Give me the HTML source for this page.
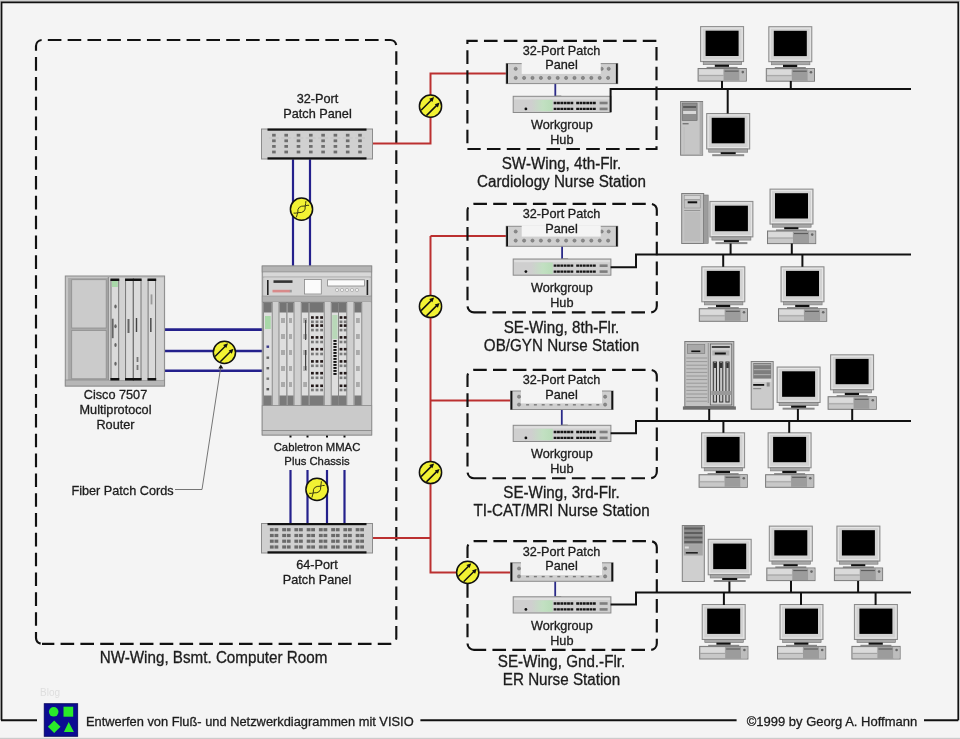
<!DOCTYPE html>
<html><head><meta charset="utf-8"><style>
html,body{margin:0;padding:0;background:#f4f4f4;}
svg{display:block;font-family:"Liberation Sans",sans-serif;will-change:transform;}
</style></head><body>
<svg width="960" height="739" viewBox="0 0 960 739">
<defs>
<linearGradient id="hubg" x1="0" y1="0" x2="1" y2="0"><stop offset="0" stop-color="#cfcfcf"/><stop offset="0.55" stop-color="#c2e0c2"/><stop offset="1" stop-color="#b8dcb8"/></linearGradient>
<g id="fib">
<circle cx="0" cy="0" r="11.1" fill="#f2f233" stroke="#111" stroke-width="1.5"/>
<line x1="-9.4" y1="4.1" x2="1.6" y2="-6.9" stroke="#111" stroke-width="1.5"/>
<line x1="-4.1" y1="9.4" x2="6.9" y2="-1.6" stroke="#111" stroke-width="1.5"/>
<path d="M3.6,-9.1 L1.9,-4.3 L-1.3,-7.4 Z" fill="#111"/>
<path d="M9.1,-3.6 L7.4,1.3 L4.3,-1.9 Z" fill="#111"/>
</g>
<g id="twist">
<circle cx="0" cy="0" r="11.1" fill="#f2f233" stroke="#111" stroke-width="1.5"/>
<path d="M-7.9,3.9 Q-5.5,4.2 -3.7,3.5 Q-4.6,-3.75 3.7,-3.2 Q5.5,-4.2 7.6,-3.9" fill="none" stroke="#3a3a10" stroke-width="1"/>
<path d="M-5.1,8.1 Q-4.5,5.5 -3.7,3.5 Q4.6,4.05 3.7,-3.2 Q4.2,-5.5 4.4,-8.1" fill="none" stroke="#3a3a10" stroke-width="1"/>
</g>
<g id="mon">
<rect x="0.5" y="0.5" width="43" height="35.5" fill="#d2d2d2" stroke="#8a8a8a" stroke-width="1"/>
<rect x="2" y="2" width="40" height="32.5" fill="none" stroke="#e6e6e6" stroke-width="1"/>
<rect x="5.5" y="4.8" width="33" height="25.5" fill="#000"/>
<rect x="2.5" y="36" width="39" height="3.2" fill="#a8a8a8" stroke="#777" stroke-width="0.6"/>
<rect x="14.5" y="39.2" width="15" height="2.2" fill="#111"/>
<rect x="6" y="41.2" width="32" height="2" fill="#8a8a8a"/>
</g>
<g id="pc">
<rect x="3" y="0.5" width="43" height="35" fill="#d2d2d2" stroke="#8a8a8a" stroke-width="1"/>
<rect x="4.5" y="2" width="40" height="32" fill="none" stroke="#e6e6e6" stroke-width="1"/>
<rect x="8" y="4.6" width="33" height="25.3" fill="#000"/>
<rect x="5.6" y="35.5" width="38.5" height="3.1" fill="#a8a8a8" stroke="#777" stroke-width="0.6"/>
<rect x="17.2" y="38.6" width="14.2" height="2.2" fill="#111"/>
<rect x="9" y="40.8" width="31" height="1.8" fill="#888"/>
<rect x="0.5" y="42.4" width="48.2" height="12.6" fill="#c8c8c8" stroke="#7a7a7a" stroke-width="1"/>
<rect x="1.5" y="43.5" width="24" height="5" fill="#dadada"/>
<line x1="1" y1="49.5" x2="26" y2="49.5" stroke="#9a9a9a" stroke-width="0.8"/>
<rect x="26" y="43" width="16" height="11.5" fill="#9c9c9c"/>
<line x1="27" y1="45" x2="41" y2="45" stroke="#555" stroke-width="1"/>
<rect x="42" y="43" width="6.2" height="11.5" fill="#bdbdbd"/>
<circle cx="45.2" cy="46" r="1.3" fill="#666"/>
</g>
</defs>
<rect x="0" y="0" width="960" height="739" fill="#f4f4f4"/>
<rect x="0" y="0" width="960" height="2" fill="#cfcfcf"/>
<rect x="0" y="737.8" width="960" height="1.2" fill="#cccccc"/>
<path d="M1.5,720.3 V2.3 H958.3 V720.3" fill="none" stroke="#111" stroke-width="1.8"/>
<line x1="1" y1="720.3" x2="37" y2="720.3" stroke="#111" stroke-width="2"/>
<line x1="420.4" y1="720.3" x2="736.6" y2="720.3" stroke="#111" stroke-width="2"/>
<line x1="924" y1="720.3" x2="958.3" y2="720.3" stroke="#111" stroke-width="2"/>
<path d="M42.00,643.80 H390.30 A6,6 0 0 0 396.30,637.80 V46.00 A6,6 0 0 0 390.30,40.00 H42.00 A6,6 0 0 0 36.00,46.00 V637.80 A6,6 0 0 0 42.00,643.80" fill="none" stroke="#111" stroke-width="2.15" stroke-dasharray="13.6 6.225" stroke-dashoffset="1.26"/>
<text transform="translate(213.5,663) scale(1,1.04)" x="0" y="0" font-size="15.2" text-anchor="middle" fill="#1c1c1c" stroke="#1c1c1c" stroke-width="0.3">NW-Wing, Bsmt. Computer Room</text>
<path d="M372,143.5 H430.5 V73.5 H507" fill="none" stroke="#bb3030" stroke-width="2"/>
<path d="M372,538 H430.5" fill="none" stroke="#bb3030" stroke-width="2"/>
<path d="M430.5,236 V572.5 H511" fill="none" stroke="#bb3030" stroke-width="2"/>
<path d="M430.5,236 H507" fill="none" stroke="#bb3030" stroke-width="2"/>
<path d="M430.5,400.5 H511" fill="none" stroke="#bb3030" stroke-width="2"/>
<line x1="293" y1="158" x2="293" y2="267" stroke="#24208c" stroke-width="2.2"/>
<line x1="310" y1="158" x2="310" y2="267" stroke="#24208c" stroke-width="2.2"/>
<line x1="165" y1="329.6" x2="263" y2="329.6" stroke="#24208c" stroke-width="2.6"/>
<line x1="165" y1="351.0" x2="263" y2="351.0" stroke="#24208c" stroke-width="2.6"/>
<line x1="165" y1="370.8" x2="263" y2="370.8" stroke="#24208c" stroke-width="2.6"/>
<line x1="290.5" y1="470" x2="290.5" y2="524" stroke="#24208c" stroke-width="2.2"/>
<line x1="290.5" y1="434" x2="290.5" y2="437.5" stroke="#111" stroke-width="2"/>
<line x1="307.5" y1="470" x2="307.5" y2="524" stroke="#24208c" stroke-width="2.2"/>
<line x1="307.5" y1="434" x2="307.5" y2="437.5" stroke="#111" stroke-width="2"/>
<line x1="327" y1="470" x2="327" y2="524" stroke="#24208c" stroke-width="2.2"/>
<line x1="327" y1="434" x2="327" y2="437.5" stroke="#111" stroke-width="2"/>
<line x1="344.5" y1="470" x2="344.5" y2="524" stroke="#24208c" stroke-width="2.2"/>
<line x1="344.5" y1="434" x2="344.5" y2="437.5" stroke="#111" stroke-width="2"/>
<rect x="261.5" y="129" width="111" height="30" fill="#d0d0d0" stroke="#8c8c8c" stroke-width="1"/>
<rect x="267.5" y="128.5" width="99" height="2.2" fill="#111"/>
<rect x="267.5" y="157.3" width="99" height="2.2" fill="#111"/>
<rect x="272.1" y="133.8" width="3.6" height="2.8" fill="#6e6e6e"/>
<rect x="272.1" y="139.4" width="3.6" height="2.8" fill="#6e6e6e"/>
<rect x="272.1" y="145.0" width="3.6" height="2.8" fill="#6e6e6e"/>
<rect x="272.1" y="150.6" width="3.6" height="2.8" fill="#6e6e6e"/>
<line x1="268.9" y1="138" x2="278.9" y2="138" stroke="#bdbdbd" stroke-width="0.6"/>
<rect x="284.4" y="133.8" width="3.6" height="2.8" fill="#6e6e6e"/>
<rect x="284.4" y="139.4" width="3.6" height="2.8" fill="#6e6e6e"/>
<rect x="284.4" y="145.0" width="3.6" height="2.8" fill="#6e6e6e"/>
<rect x="284.4" y="150.6" width="3.6" height="2.8" fill="#6e6e6e"/>
<line x1="281.2" y1="138" x2="291.2" y2="138" stroke="#bdbdbd" stroke-width="0.6"/>
<rect x="296.7" y="133.8" width="3.6" height="2.8" fill="#6e6e6e"/>
<rect x="296.7" y="139.4" width="3.6" height="2.8" fill="#6e6e6e"/>
<rect x="296.7" y="145.0" width="3.6" height="2.8" fill="#6e6e6e"/>
<rect x="296.7" y="150.6" width="3.6" height="2.8" fill="#6e6e6e"/>
<line x1="293.5" y1="138" x2="303.5" y2="138" stroke="#bdbdbd" stroke-width="0.6"/>
<rect x="309.0" y="133.8" width="3.6" height="2.8" fill="#6e6e6e"/>
<rect x="309.0" y="139.4" width="3.6" height="2.8" fill="#6e6e6e"/>
<rect x="309.0" y="145.0" width="3.6" height="2.8" fill="#6e6e6e"/>
<rect x="309.0" y="150.6" width="3.6" height="2.8" fill="#6e6e6e"/>
<line x1="305.79999999999995" y1="138" x2="315.79999999999995" y2="138" stroke="#bdbdbd" stroke-width="0.6"/>
<rect x="321.3" y="133.8" width="3.6" height="2.8" fill="#6e6e6e"/>
<rect x="321.3" y="139.4" width="3.6" height="2.8" fill="#6e6e6e"/>
<rect x="321.3" y="145.0" width="3.6" height="2.8" fill="#6e6e6e"/>
<rect x="321.3" y="150.6" width="3.6" height="2.8" fill="#6e6e6e"/>
<line x1="318.09999999999997" y1="138" x2="328.09999999999997" y2="138" stroke="#bdbdbd" stroke-width="0.6"/>
<rect x="333.6" y="133.8" width="3.6" height="2.8" fill="#6e6e6e"/>
<rect x="333.6" y="139.4" width="3.6" height="2.8" fill="#6e6e6e"/>
<rect x="333.6" y="145.0" width="3.6" height="2.8" fill="#6e6e6e"/>
<rect x="333.6" y="150.6" width="3.6" height="2.8" fill="#6e6e6e"/>
<line x1="330.4" y1="138" x2="340.4" y2="138" stroke="#bdbdbd" stroke-width="0.6"/>
<rect x="345.9" y="133.8" width="3.6" height="2.8" fill="#6e6e6e"/>
<rect x="345.9" y="139.4" width="3.6" height="2.8" fill="#6e6e6e"/>
<rect x="345.9" y="145.0" width="3.6" height="2.8" fill="#6e6e6e"/>
<rect x="345.9" y="150.6" width="3.6" height="2.8" fill="#6e6e6e"/>
<line x1="342.7" y1="138" x2="352.7" y2="138" stroke="#bdbdbd" stroke-width="0.6"/>
<rect x="358.2" y="133.8" width="3.6" height="2.8" fill="#6e6e6e"/>
<rect x="358.2" y="139.4" width="3.6" height="2.8" fill="#6e6e6e"/>
<rect x="358.2" y="145.0" width="3.6" height="2.8" fill="#6e6e6e"/>
<rect x="358.2" y="150.6" width="3.6" height="2.8" fill="#6e6e6e"/>
<line x1="355.0" y1="138" x2="365.0" y2="138" stroke="#bdbdbd" stroke-width="0.6"/>
<text transform="translate(317.5,103.3) scale(1,1.02)" x="0" y="0" font-size="12.7" text-anchor="middle" fill="#1c1c1c" stroke="#1c1c1c" stroke-width="0.3">32-Port</text>
<text transform="translate(317.5,118.3) scale(1,1.02)" x="0" y="0" font-size="12.7" text-anchor="middle" fill="#1c1c1c" stroke="#1c1c1c" stroke-width="0.3">Patch Panel</text>
<use href="#twist" x="301.5" y="209.2"/>
<rect x="261.5" y="523.5" width="111" height="29.5" fill="#d0d0d0" stroke="#8c8c8c" stroke-width="1"/>
<rect x="267.5" y="523.0" width="99" height="2.2" fill="#111"/>
<rect x="267.5" y="551.3" width="99" height="2.2" fill="#111"/>
<rect x="269.9" y="528.1" width="3.8" height="3.2" fill="#6a6a6a"/>
<rect x="274.5" y="528.1" width="3.8" height="3.2" fill="#6a6a6a"/>
<rect x="269.9" y="533.9" width="3.8" height="3.2" fill="#6a6a6a"/>
<rect x="274.5" y="533.9" width="3.8" height="3.2" fill="#6a6a6a"/>
<rect x="269.9" y="539.6" width="3.8" height="3.2" fill="#6a6a6a"/>
<rect x="274.5" y="539.6" width="3.8" height="3.2" fill="#6a6a6a"/>
<rect x="269.9" y="545.4" width="3.8" height="3.2" fill="#6a6a6a"/>
<rect x="274.5" y="545.4" width="3.8" height="3.2" fill="#6a6a6a"/>
<rect x="282.2" y="528.1" width="3.8" height="3.2" fill="#6a6a6a"/>
<rect x="286.8" y="528.1" width="3.8" height="3.2" fill="#6a6a6a"/>
<rect x="282.2" y="533.9" width="3.8" height="3.2" fill="#6a6a6a"/>
<rect x="286.8" y="533.9" width="3.8" height="3.2" fill="#6a6a6a"/>
<rect x="282.2" y="539.6" width="3.8" height="3.2" fill="#6a6a6a"/>
<rect x="286.8" y="539.6" width="3.8" height="3.2" fill="#6a6a6a"/>
<rect x="282.2" y="545.4" width="3.8" height="3.2" fill="#6a6a6a"/>
<rect x="286.8" y="545.4" width="3.8" height="3.2" fill="#6a6a6a"/>
<rect x="294.4" y="528.1" width="3.8" height="3.2" fill="#6a6a6a"/>
<rect x="299.0" y="528.1" width="3.8" height="3.2" fill="#6a6a6a"/>
<rect x="294.4" y="533.9" width="3.8" height="3.2" fill="#6a6a6a"/>
<rect x="299.0" y="533.9" width="3.8" height="3.2" fill="#6a6a6a"/>
<rect x="294.4" y="539.6" width="3.8" height="3.2" fill="#6a6a6a"/>
<rect x="299.0" y="539.6" width="3.8" height="3.2" fill="#6a6a6a"/>
<rect x="294.4" y="545.4" width="3.8" height="3.2" fill="#6a6a6a"/>
<rect x="299.0" y="545.4" width="3.8" height="3.2" fill="#6a6a6a"/>
<rect x="306.7" y="528.1" width="3.8" height="3.2" fill="#6a6a6a"/>
<rect x="311.2" y="528.1" width="3.8" height="3.2" fill="#6a6a6a"/>
<rect x="306.7" y="533.9" width="3.8" height="3.2" fill="#6a6a6a"/>
<rect x="311.2" y="533.9" width="3.8" height="3.2" fill="#6a6a6a"/>
<rect x="306.7" y="539.6" width="3.8" height="3.2" fill="#6a6a6a"/>
<rect x="311.2" y="539.6" width="3.8" height="3.2" fill="#6a6a6a"/>
<rect x="306.7" y="545.4" width="3.8" height="3.2" fill="#6a6a6a"/>
<rect x="311.2" y="545.4" width="3.8" height="3.2" fill="#6a6a6a"/>
<rect x="318.9" y="528.1" width="3.8" height="3.2" fill="#6a6a6a"/>
<rect x="323.5" y="528.1" width="3.8" height="3.2" fill="#6a6a6a"/>
<rect x="318.9" y="533.9" width="3.8" height="3.2" fill="#6a6a6a"/>
<rect x="323.5" y="533.9" width="3.8" height="3.2" fill="#6a6a6a"/>
<rect x="318.9" y="539.6" width="3.8" height="3.2" fill="#6a6a6a"/>
<rect x="323.5" y="539.6" width="3.8" height="3.2" fill="#6a6a6a"/>
<rect x="318.9" y="545.4" width="3.8" height="3.2" fill="#6a6a6a"/>
<rect x="323.5" y="545.4" width="3.8" height="3.2" fill="#6a6a6a"/>
<rect x="331.2" y="528.1" width="3.8" height="3.2" fill="#6a6a6a"/>
<rect x="335.8" y="528.1" width="3.8" height="3.2" fill="#6a6a6a"/>
<rect x="331.2" y="533.9" width="3.8" height="3.2" fill="#6a6a6a"/>
<rect x="335.8" y="533.9" width="3.8" height="3.2" fill="#6a6a6a"/>
<rect x="331.2" y="539.6" width="3.8" height="3.2" fill="#6a6a6a"/>
<rect x="335.8" y="539.6" width="3.8" height="3.2" fill="#6a6a6a"/>
<rect x="331.2" y="545.4" width="3.8" height="3.2" fill="#6a6a6a"/>
<rect x="335.8" y="545.4" width="3.8" height="3.2" fill="#6a6a6a"/>
<rect x="343.4" y="528.1" width="3.8" height="3.2" fill="#6a6a6a"/>
<rect x="348.0" y="528.1" width="3.8" height="3.2" fill="#6a6a6a"/>
<rect x="343.4" y="533.9" width="3.8" height="3.2" fill="#6a6a6a"/>
<rect x="348.0" y="533.9" width="3.8" height="3.2" fill="#6a6a6a"/>
<rect x="343.4" y="539.6" width="3.8" height="3.2" fill="#6a6a6a"/>
<rect x="348.0" y="539.6" width="3.8" height="3.2" fill="#6a6a6a"/>
<rect x="343.4" y="545.4" width="3.8" height="3.2" fill="#6a6a6a"/>
<rect x="348.0" y="545.4" width="3.8" height="3.2" fill="#6a6a6a"/>
<rect x="355.7" y="528.1" width="3.8" height="3.2" fill="#6a6a6a"/>
<rect x="360.2" y="528.1" width="3.8" height="3.2" fill="#6a6a6a"/>
<rect x="355.7" y="533.9" width="3.8" height="3.2" fill="#6a6a6a"/>
<rect x="360.2" y="533.9" width="3.8" height="3.2" fill="#6a6a6a"/>
<rect x="355.7" y="539.6" width="3.8" height="3.2" fill="#6a6a6a"/>
<rect x="360.2" y="539.6" width="3.8" height="3.2" fill="#6a6a6a"/>
<rect x="355.7" y="545.4" width="3.8" height="3.2" fill="#6a6a6a"/>
<rect x="360.2" y="545.4" width="3.8" height="3.2" fill="#6a6a6a"/>
<text transform="translate(317,569) scale(1,1.02)" x="0" y="0" font-size="12.7" text-anchor="middle" fill="#1c1c1c" stroke="#1c1c1c" stroke-width="0.3">64-Port</text>
<text transform="translate(317,584) scale(1,1.02)" x="0" y="0" font-size="12.7" text-anchor="middle" fill="#1c1c1c" stroke="#1c1c1c" stroke-width="0.3">Patch Panel</text>
<use href="#twist" x="317" y="489.4"/>
<use href="#fib" x="224.4" y="352.4"/>
<path d="M175,489.5 H202 L220.6,368" fill="none" stroke="#666" stroke-width="0.9"/>
<path d="M220.8,364.4 L218.3,368.6 L223.3,368.6 Z" fill="#111"/>
<text transform="translate(122.5,494.5) scale(1,1.02)" x="0" y="0" font-size="12.7" text-anchor="middle" fill="#1c1c1c" stroke="#1c1c1c" stroke-width="0.3">Fiber Patch Cords</text>
<text transform="translate(115.5,398.5) scale(1,1.02)" x="0" y="0" font-size="12.7" text-anchor="middle" fill="#1c1c1c" stroke="#1c1c1c" stroke-width="0.3">Cisco 7507</text>
<text transform="translate(115.5,413.8) scale(1,1.02)" x="0" y="0" font-size="12.7" text-anchor="middle" fill="#1c1c1c" stroke="#1c1c1c" stroke-width="0.3">Multiprotocol</text>
<text transform="translate(115.5,428.6) scale(1,1.02)" x="0" y="0" font-size="12.7" text-anchor="middle" fill="#1c1c1c" stroke="#1c1c1c" stroke-width="0.3">Router</text>
<text transform="translate(317,450.7) scale(1,1.02)" x="0" y="0" font-size="11.3" text-anchor="middle" fill="#1c1c1c" stroke="#1c1c1c" stroke-width="0.3">Cabletron MMAC</text>
<text transform="translate(317,464.5) scale(1,1.02)" x="0" y="0" font-size="11.3" text-anchor="middle" fill="#1c1c1c" stroke="#1c1c1c" stroke-width="0.3">Plus Chassis</text>
<rect x="65.3" y="276" width="99.3" height="110" fill="#c4c4c4" stroke="#8a8a8a" stroke-width="1"/>
<rect x="68.1" y="278" width="40.5" height="103" fill="#a9a9a9"/>
<rect x="71.7" y="279.7" width="34.5" height="48.3" fill="#cbcbcb" stroke="#8e8e8e" stroke-width="0.8"/>
<rect x="71.7" y="330.5" width="34.5" height="48.3" fill="#cbcbcb" stroke="#8e8e8e" stroke-width="0.8"/>
<rect x="65.3" y="380" width="99.3" height="6" fill="#b6b6b6" stroke="#8a8a8a" stroke-width="0.8"/>
<line x1="108.3" y1="277" x2="108.3" y2="380" stroke="#8a8a8a" stroke-width="1"/>
<rect x="109.3" y="278" width="54.3" height="102" fill="#d2d2d2"/>
<rect x="111.0" y="280" width="7.700000000000003" height="99" fill="#dadada" stroke="#6e6e6e" stroke-width="0.9"/>
<rect x="110.4" y="278.5" width="8.900000000000002" height="2.5" fill="#111"/>
<rect x="110.4" y="378" width="8.900000000000002" height="2.5" fill="#111"/>
<rect x="125.6" y="280" width="7.5" height="99" fill="#dadada" stroke="#6e6e6e" stroke-width="0.9"/>
<rect x="125.0" y="278.5" width="8.7" height="2.5" fill="#111"/>
<rect x="125.0" y="378" width="8.7" height="2.5" fill="#111"/>
<rect x="133.5" y="280" width="7.5" height="99" fill="#dadada" stroke="#6e6e6e" stroke-width="0.9"/>
<rect x="132.9" y="278.5" width="8.7" height="2.5" fill="#111"/>
<rect x="132.9" y="378" width="8.7" height="2.5" fill="#111"/>
<rect x="148.1" y="280" width="7.5" height="99" fill="#dadada" stroke="#6e6e6e" stroke-width="0.9"/>
<rect x="147.5" y="278.5" width="8.7" height="2.5" fill="#111"/>
<rect x="147.5" y="378" width="8.7" height="2.5" fill="#111"/>
<rect x="111.8" y="281" width="6" height="6" fill="#a8d8a8"/>
<ellipse cx="115.5" cy="306.6" rx="1.2" ry="2" fill="#666"/>
<ellipse cx="115.5" cy="326.3" rx="1.2" ry="2" fill="#666"/>
<ellipse cx="115.5" cy="345" rx="1.2" ry="2" fill="#666"/>
<ellipse cx="115.5" cy="363.8" rx="1.2" ry="2" fill="#666"/>
<rect x="111.8" y="318.7" width="1.8" height="19.5" fill="#666"/>
<rect x="127.5" y="319" width="2" height="14" fill="#666"/>
<rect x="135.8" y="318" width="1.4" height="14" fill="#444"/>
<rect x="136.6" y="357" width="1.8" height="5" fill="#777"/>
<rect x="136.6" y="365" width="1.8" height="5" fill="#777"/>
<rect x="150" y="318" width="1.6" height="14" fill="#555"/>
<rect x="150.6" y="294.4" width="1.8" height="10" fill="#999"/>
<rect x="262.2" y="266" width="109.5" height="169" fill="#c9c9c9" stroke="#8a8a8a" stroke-width="1"/>
<rect x="262.2" y="266" width="109.5" height="6" fill="#b4b4b4" stroke="#8a8a8a" stroke-width="0.8"/>
<rect x="263.2" y="272.5" width="107.5" height="4.5" fill="#d8d8d8"/>
<line x1="262.2" y1="277" x2="371.7" y2="277" stroke="#9a9a9a" stroke-width="0.8"/>
<rect x="264.2" y="277.5" width="105.5" height="18.5" fill="#d4d4d4"/>
<rect x="267" y="280" width="1.6" height="15" fill="#222"/>
<rect x="366.6" y="280" width="1.6" height="15" fill="#222"/>
<rect x="273.5" y="280.3" width="19" height="2.6" fill="#333"/>
<rect x="272.5" y="289.8" width="17.5" height="2.6" fill="#d88a8a"/>
<rect x="289.8" y="289.8" width="2" height="2.6" fill="#999"/>
<rect x="304.5" y="279.5" width="16.8" height="14.5" fill="#fbfbfb" stroke="#888" stroke-width="0.8"/>
<rect x="327.6" y="279.8" width="36.8" height="6.2" fill="#fbfbfb" stroke="#888" stroke-width="0.8"/>
<circle cx="337" cy="290" r="1.6" fill="#f4f4f4" stroke="#999" stroke-width="0.6"/>
<circle cx="342" cy="290" r="1.6" fill="#f4f4f4" stroke="#999" stroke-width="0.6"/>
<circle cx="347" cy="290" r="1.6" fill="#f4f4f4" stroke="#999" stroke-width="0.6"/>
<circle cx="352" cy="290" r="1.6" fill="#f4f4f4" stroke="#999" stroke-width="0.6"/>
<circle cx="357" cy="290" r="1.6" fill="#f4f4f4" stroke="#999" stroke-width="0.6"/>
<rect x="262.2" y="296" width="109.5" height="6" fill="#b2b2b2" stroke="#8c8c8c" stroke-width="0.6"/>
<rect x="263.2" y="302" width="107.5" height="103.5" fill="#cfcfcf"/>
<rect x="263.5" y="302.5" width="8.699999999999989" height="103" fill="#dedede" stroke="#7a7a7a" stroke-width="0.8"/>
<rect x="264.0" y="302.5" width="7.699999999999989" height="10" fill="#747474"/>
<rect x="264.0" y="395.5" width="7.699999999999989" height="10" fill="#7a7a7a"/>
<rect x="265.0" y="316" width="5.699999999999989" height="13" fill="#a8d8a8"/>
<rect x="266.5" y="345.5" width="2.6" height="2.4" fill="#3a3a8a"/>
<rect x="266.5" y="356.5" width="2.6" height="2.4" fill="#666"/>
<rect x="266.5" y="367" width="2.6" height="2.4" fill="#666"/>
<rect x="266.5" y="377.5" width="2.6" height="2.4" fill="#777"/>
<rect x="266.5" y="388" width="2.6" height="2.4" fill="#555"/>
<rect x="279" y="302.5" width="8" height="103" fill="#dedede" stroke="#7a7a7a" stroke-width="0.8"/>
<rect x="279.5" y="302.5" width="7" height="10" fill="#747474"/>
<rect x="279.5" y="395.5" width="7" height="10" fill="#7a7a7a"/>
<rect x="281" y="318" width="4" height="5" fill="#aaa"/>
<rect x="281" y="334" width="4" height="5" fill="#aaa"/>
<rect x="281" y="350" width="4" height="5" fill="#aaa"/>
<rect x="281" y="366" width="4" height="5" fill="#aaa"/>
<rect x="281" y="382" width="4" height="5" fill="#aaa"/>
<rect x="287" y="302.5" width="7" height="103" fill="#dedede" stroke="#7a7a7a" stroke-width="0.8"/>
<rect x="287.5" y="302.5" width="6" height="10" fill="#747474"/>
<rect x="287.5" y="395.5" width="6" height="10" fill="#7a7a7a"/>
<rect x="289" y="318" width="3" height="5" fill="#aaa"/>
<rect x="289" y="334" width="3" height="5" fill="#aaa"/>
<rect x="289" y="350" width="3" height="5" fill="#aaa"/>
<rect x="289" y="366" width="3" height="5" fill="#aaa"/>
<rect x="289" y="382" width="3" height="5" fill="#aaa"/>
<rect x="301.2" y="302.5" width="7.800000000000011" height="103" fill="#dedede" stroke="#7a7a7a" stroke-width="0.8"/>
<rect x="301.7" y="302.5" width="6.800000000000011" height="10" fill="#747474"/>
<rect x="301.7" y="395.5" width="6.800000000000011" height="10" fill="#7a7a7a"/>
<rect x="303.2" y="318" width="3.8000000000000114" height="5" fill="#aaa"/>
<rect x="303.2" y="334" width="3.8000000000000114" height="5" fill="#aaa"/>
<rect x="303.2" y="350" width="3.8000000000000114" height="5" fill="#aaa"/>
<rect x="303.2" y="366" width="3.8000000000000114" height="5" fill="#aaa"/>
<rect x="303.2" y="382" width="3.8000000000000114" height="5" fill="#aaa"/>
<rect x="309" y="302.5" width="15.199999999999989" height="103" fill="#dedede" stroke="#7a7a7a" stroke-width="0.8"/>
<rect x="309.5" y="302.5" width="14.199999999999989" height="10" fill="#747474"/>
<rect x="309.5" y="395.5" width="14.199999999999989" height="10" fill="#7a7a7a"/>
<rect x="311.0" y="316.2" width="2.8" height="2.6" fill="#221818"/>
<rect x="315.6" y="316.2" width="2.8" height="2.6" fill="#221818"/>
<rect x="320.2" y="316.2" width="2.8" height="2.6" fill="#221818"/>
<rect x="311.0" y="320.5" width="2.8" height="2.6" fill="#7a7a7a"/>
<rect x="315.6" y="320.5" width="2.8" height="2.6" fill="#7a7a7a"/>
<rect x="320.2" y="320.5" width="2.8" height="2.6" fill="#7a7a7a"/>
<rect x="311.0" y="324.3" width="2.8" height="2.6" fill="#221818"/>
<rect x="315.6" y="324.3" width="2.8" height="2.6" fill="#221818"/>
<rect x="320.2" y="324.3" width="2.8" height="2.6" fill="#221818"/>
<rect x="311.0" y="328.8" width="2.8" height="2.6" fill="#7a7a7a"/>
<rect x="315.6" y="328.8" width="2.8" height="2.6" fill="#7a7a7a"/>
<rect x="320.2" y="328.8" width="2.8" height="2.6" fill="#7a7a7a"/>
<rect x="311.0" y="336.09999999999997" width="2.8" height="2.6" fill="#221818"/>
<rect x="315.6" y="336.09999999999997" width="2.8" height="2.6" fill="#221818"/>
<rect x="320.2" y="336.09999999999997" width="2.8" height="2.6" fill="#221818"/>
<rect x="311.0" y="340.7" width="2.8" height="2.6" fill="#7a7a7a"/>
<rect x="315.6" y="340.7" width="2.8" height="2.6" fill="#7a7a7a"/>
<rect x="320.2" y="340.7" width="2.8" height="2.6" fill="#7a7a7a"/>
<rect x="311.0" y="347.9" width="2.8" height="2.6" fill="#221818"/>
<rect x="315.6" y="347.9" width="2.8" height="2.6" fill="#221818"/>
<rect x="320.2" y="347.9" width="2.8" height="2.6" fill="#221818"/>
<rect x="311.0" y="352.7" width="2.8" height="2.6" fill="#7a7a7a"/>
<rect x="315.6" y="352.7" width="2.8" height="2.6" fill="#7a7a7a"/>
<rect x="320.2" y="352.7" width="2.8" height="2.6" fill="#7a7a7a"/>
<rect x="311.0" y="360.09999999999997" width="2.8" height="2.6" fill="#221818"/>
<rect x="315.6" y="360.09999999999997" width="2.8" height="2.6" fill="#221818"/>
<rect x="320.2" y="360.09999999999997" width="2.8" height="2.6" fill="#221818"/>
<rect x="311.0" y="364.5" width="2.8" height="2.6" fill="#7a7a7a"/>
<rect x="315.6" y="364.5" width="2.8" height="2.6" fill="#7a7a7a"/>
<rect x="320.2" y="364.5" width="2.8" height="2.6" fill="#7a7a7a"/>
<rect x="311.0" y="371.9" width="2.8" height="2.6" fill="#221818"/>
<rect x="315.6" y="371.9" width="2.8" height="2.6" fill="#221818"/>
<rect x="320.2" y="371.9" width="2.8" height="2.6" fill="#221818"/>
<rect x="311.0" y="376.5" width="2.8" height="2.6" fill="#7a7a7a"/>
<rect x="315.6" y="376.5" width="2.8" height="2.6" fill="#7a7a7a"/>
<rect x="320.2" y="376.5" width="2.8" height="2.6" fill="#7a7a7a"/>
<rect x="311.0" y="384.5" width="2.8" height="2.6" fill="#221818"/>
<rect x="315.6" y="384.5" width="2.8" height="2.6" fill="#221818"/>
<rect x="320.2" y="384.5" width="2.8" height="2.6" fill="#221818"/>
<rect x="311.0" y="388.7" width="2.8" height="2.6" fill="#7a7a7a"/>
<rect x="315.6" y="388.7" width="2.8" height="2.6" fill="#7a7a7a"/>
<rect x="320.2" y="388.7" width="2.8" height="2.6" fill="#7a7a7a"/>
<rect x="331.2" y="302.5" width="7.300000000000011" height="103" fill="#dedede" stroke="#7a7a7a" stroke-width="0.8"/>
<rect x="331.7" y="302.5" width="6.300000000000011" height="10" fill="#747474"/>
<rect x="331.7" y="395.5" width="6.300000000000011" height="10" fill="#7a7a7a"/>
<rect x="332.2" y="315" width="5.300000000000011" height="24" fill="#b8d8b8"/>
<rect x="333.4" y="340" width="3.2" height="1.9" fill="#111"/>
<rect x="333.4" y="343" width="3.2" height="1.9" fill="#111"/>
<rect x="333.4" y="346" width="3.2" height="1.9" fill="#111"/>
<rect x="333.4" y="349" width="3.2" height="1.9" fill="#111"/>
<rect x="333.4" y="352" width="3.2" height="1.9" fill="#111"/>
<rect x="333.4" y="355" width="3.2" height="1.9" fill="#111"/>
<rect x="333.4" y="358" width="3.2" height="1.9" fill="#111"/>
<rect x="333.4" y="361" width="3.2" height="1.9" fill="#111"/>
<rect x="333.4" y="364" width="3.2" height="1.9" fill="#111"/>
<rect x="333.4" y="367" width="3.2" height="1.9" fill="#111"/>
<rect x="333.4" y="370" width="3.2" height="1.9" fill="#111"/>
<rect x="333.4" y="373" width="3.2" height="1.9" fill="#111"/>
<rect x="338.5" y="302.5" width="8.300000000000011" height="103" fill="#dedede" stroke="#7a7a7a" stroke-width="0.8"/>
<rect x="339.0" y="302.5" width="7.300000000000011" height="10" fill="#747474"/>
<rect x="339.0" y="395.5" width="7.300000000000011" height="10" fill="#7a7a7a"/>
<rect x="339.6" y="316.2" width="2.8" height="2.6" fill="#221818"/>
<rect x="343.8" y="316.2" width="2.8" height="2.6" fill="#221818"/>
<rect x="339.6" y="320.5" width="2.8" height="2.6" fill="#7a7a7a"/>
<rect x="343.8" y="320.5" width="2.8" height="2.6" fill="#7a7a7a"/>
<rect x="339.6" y="324.3" width="2.8" height="2.6" fill="#221818"/>
<rect x="343.8" y="324.3" width="2.8" height="2.6" fill="#221818"/>
<rect x="339.6" y="328.8" width="2.8" height="2.6" fill="#7a7a7a"/>
<rect x="343.8" y="328.8" width="2.8" height="2.6" fill="#7a7a7a"/>
<rect x="339.6" y="336.09999999999997" width="2.8" height="2.6" fill="#221818"/>
<rect x="343.8" y="336.09999999999997" width="2.8" height="2.6" fill="#221818"/>
<rect x="339.6" y="340.7" width="2.8" height="2.6" fill="#7a7a7a"/>
<rect x="343.8" y="340.7" width="2.8" height="2.6" fill="#7a7a7a"/>
<rect x="339.6" y="347.9" width="2.8" height="2.6" fill="#221818"/>
<rect x="343.8" y="347.9" width="2.8" height="2.6" fill="#221818"/>
<rect x="339.6" y="352.7" width="2.8" height="2.6" fill="#7a7a7a"/>
<rect x="343.8" y="352.7" width="2.8" height="2.6" fill="#7a7a7a"/>
<rect x="339.6" y="360.09999999999997" width="2.8" height="2.6" fill="#221818"/>
<rect x="343.8" y="360.09999999999997" width="2.8" height="2.6" fill="#221818"/>
<rect x="339.6" y="364.5" width="2.8" height="2.6" fill="#7a7a7a"/>
<rect x="343.8" y="364.5" width="2.8" height="2.6" fill="#7a7a7a"/>
<rect x="339.6" y="371.9" width="2.8" height="2.6" fill="#221818"/>
<rect x="343.8" y="371.9" width="2.8" height="2.6" fill="#221818"/>
<rect x="339.6" y="376.5" width="2.8" height="2.6" fill="#7a7a7a"/>
<rect x="343.8" y="376.5" width="2.8" height="2.6" fill="#7a7a7a"/>
<rect x="339.6" y="384.5" width="2.8" height="2.6" fill="#221818"/>
<rect x="343.8" y="384.5" width="2.8" height="2.6" fill="#221818"/>
<rect x="339.6" y="388.7" width="2.8" height="2.6" fill="#7a7a7a"/>
<rect x="343.8" y="388.7" width="2.8" height="2.6" fill="#7a7a7a"/>
<rect x="354" y="302.5" width="7.800000000000011" height="103" fill="#dedede" stroke="#7a7a7a" stroke-width="0.8"/>
<rect x="354.5" y="302.5" width="6.800000000000011" height="10" fill="#747474"/>
<rect x="354.5" y="395.5" width="6.800000000000011" height="10" fill="#7a7a7a"/>
<rect x="356" y="318" width="3.8000000000000114" height="5" fill="#aaa"/>
<rect x="356" y="334" width="3.8000000000000114" height="5" fill="#aaa"/>
<rect x="356" y="350" width="3.8000000000000114" height="5" fill="#aaa"/>
<rect x="356" y="366" width="3.8000000000000114" height="5" fill="#aaa"/>
<rect x="356" y="382" width="3.8000000000000114" height="5" fill="#aaa"/>
<rect x="305" y="320" width="1.2" height="20" fill="#444"/>
<rect x="305" y="350" width="1.2" height="20" fill="#444"/>
<rect x="262.2" y="405.6" width="109.5" height="25" fill="#cacaca" stroke="#8a8a8a" stroke-width="0.8"/>
<rect x="262.2" y="430.6" width="109.5" height="4.4" fill="#c2c2c2" stroke="#8a8a8a" stroke-width="0.8"/>
<path d="M467.40,149.00 H656.50 V40.80 H467.40 V149.00" fill="none" stroke="#111" stroke-width="2.15" stroke-dasharray="13.6 6.250" stroke-dashoffset="0.32"/>
<line x1="555.3" y1="81.6" x2="555.3" y2="96.3" stroke="#2a2a88" stroke-width="1.8"/>
<line x1="555.3" y1="96.0" x2="561.3" y2="96.0" stroke="#666" stroke-width="0.7"/>
<rect x="506.2" y="63.6" width="111.5" height="20" fill="#cfcfcf" stroke="#8c8c8c" stroke-width="1"/>
<rect x="506.2" y="63.6" width="1.8" height="20" fill="#111"/>
<rect x="615.9000000000001" y="63.6" width="1.8" height="20" fill="#111"/>
<circle cx="515.7" cy="77.9" r="1.6" fill="#8a8a8a" stroke="#666" stroke-width="0.5"/>
<circle cx="524.1" cy="77.9" r="1.6" fill="#8a8a8a" stroke="#666" stroke-width="0.5"/>
<circle cx="532.5" cy="77.9" r="1.6" fill="#8a8a8a" stroke="#666" stroke-width="0.5"/>
<circle cx="540.9" cy="77.9" r="1.6" fill="#8a8a8a" stroke="#666" stroke-width="0.5"/>
<circle cx="549.3" cy="77.9" r="1.6" fill="#8a8a8a" stroke="#666" stroke-width="0.5"/>
<circle cx="557.7" cy="77.9" r="1.6" fill="#8a8a8a" stroke="#666" stroke-width="0.5"/>
<circle cx="566.1" cy="77.9" r="1.6" fill="#8a8a8a" stroke="#666" stroke-width="0.5"/>
<circle cx="574.5" cy="77.9" r="1.6" fill="#8a8a8a" stroke="#666" stroke-width="0.5"/>
<circle cx="582.9" cy="77.9" r="1.6" fill="#8a8a8a" stroke="#666" stroke-width="0.5"/>
<circle cx="591.3" cy="77.9" r="1.6" fill="#8a8a8a" stroke="#666" stroke-width="0.5"/>
<circle cx="599.7" cy="77.9" r="1.6" fill="#8a8a8a" stroke="#666" stroke-width="0.5"/>
<circle cx="608.1" cy="77.9" r="1.6" fill="#8a8a8a" stroke="#666" stroke-width="0.5"/>
<circle cx="515.7" cy="68.8" r="1.6" fill="#8a8a8a" stroke="#666" stroke-width="0.5"/>
<circle cx="601.7" cy="68.8" r="1.6" fill="#8a8a8a" stroke="#666" stroke-width="0.5"/>
<circle cx="608.7" cy="68.8" r="1.6" fill="#8a8a8a" stroke="#666" stroke-width="0.5"/>
<rect x="521.7" y="62.6" width="79" height="11.3" fill="#f4f4f4"/>
<rect x="513.2" y="96.3" width="97.7" height="16.2" fill="#cfcfcf" stroke="#8a8a8a" stroke-width="1"/>
<rect x="514.2" y="97.3" width="95.7" height="2.2" fill="#dedede"/>
<rect x="531.2" y="99.8" width="21.5" height="11.5" fill="url(#hubg)"/>
<circle cx="525.9000000000001" cy="108.89999999999999" r="1.4" fill="#111"/>
<line x1="553.7" y1="103.0" x2="573.7" y2="103.0" stroke="#151515" stroke-width="2.3" stroke-dasharray="2.8 0.55"/>
<line x1="576.2" y1="103.0" x2="596.2" y2="103.0" stroke="#151515" stroke-width="2.3" stroke-dasharray="2.8 0.55"/>
<rect x="599.6" y="101.7" width="8" height="2.6" fill="#7e7e7e"/>
<line x1="553.7" y1="108.89999999999999" x2="573.7" y2="108.89999999999999" stroke="#151515" stroke-width="2.3" stroke-dasharray="2.8 0.55"/>
<line x1="576.2" y1="108.89999999999999" x2="596.2" y2="108.89999999999999" stroke="#151515" stroke-width="2.3" stroke-dasharray="2.8 0.55"/>
<rect x="599.6" y="107.6" width="8" height="2.6" fill="#7e7e7e"/>
<text transform="translate(561.5,54.8) scale(1,1.02)" x="0" y="0" font-size="12.7" text-anchor="middle" fill="#1c1c1c" stroke="#1c1c1c" stroke-width="0.3">32-Port Patch</text>
<text transform="translate(561.5,69.4) scale(1,1.02)" x="0" y="0" font-size="12.7" text-anchor="middle" fill="#1c1c1c" stroke="#1c1c1c" stroke-width="0.3">Panel</text>
<text transform="translate(561.8,129.1) scale(1,1.02)" x="0" y="0" font-size="12.7" text-anchor="middle" fill="#1c1c1c" stroke="#1c1c1c" stroke-width="0.3">Workgroup</text>
<text transform="translate(561.8,144.0) scale(1,1.02)" x="0" y="0" font-size="12.7" text-anchor="middle" fill="#1c1c1c" stroke="#1c1c1c" stroke-width="0.3">Hub</text>
<text transform="translate(561.5,169.0) scale(1,1.04)" x="0" y="0" font-size="15.2" text-anchor="middle" fill="#1c1c1c" stroke="#1c1c1c" stroke-width="0.3">SW-Wing, 4th-Flr.</text>
<text transform="translate(561.5,186.8) scale(1,1.04)" x="0" y="0" font-size="15.2" text-anchor="middle" fill="#1c1c1c" stroke="#1c1c1c" stroke-width="0.3">Cardiology Nurse Station</text>
<path d="M474.00,312.40 H650.30 A6.5,6.5 0 0 0 656.80,305.90 V210.30 A6.5,6.5 0 0 0 650.30,203.80 H474.00 A6.5,6.5 0 0 0 467.50,210.30 V305.90 A6.5,6.5 0 0 0 474.00,312.40" fill="none" stroke="#111" stroke-width="2.15" stroke-dasharray="13.6 6.250" stroke-dashoffset="1.41"/>
<line x1="562.1" y1="244.3" x2="562.1" y2="259" stroke="#2a2a88" stroke-width="1.8"/>
<line x1="562.1" y1="258.7" x2="568.1" y2="258.7" stroke="#666" stroke-width="0.7"/>
<rect x="506.2" y="226.3" width="111.5" height="20" fill="#cfcfcf" stroke="#8c8c8c" stroke-width="1"/>
<rect x="506.2" y="226.3" width="1.8" height="20" fill="#111"/>
<rect x="615.9000000000001" y="226.3" width="1.8" height="20" fill="#111"/>
<circle cx="515.7" cy="240.60000000000002" r="1.6" fill="#8a8a8a" stroke="#666" stroke-width="0.5"/>
<circle cx="524.1" cy="240.60000000000002" r="1.6" fill="#8a8a8a" stroke="#666" stroke-width="0.5"/>
<circle cx="532.5" cy="240.60000000000002" r="1.6" fill="#8a8a8a" stroke="#666" stroke-width="0.5"/>
<circle cx="540.9" cy="240.60000000000002" r="1.6" fill="#8a8a8a" stroke="#666" stroke-width="0.5"/>
<circle cx="549.3" cy="240.60000000000002" r="1.6" fill="#8a8a8a" stroke="#666" stroke-width="0.5"/>
<circle cx="557.7" cy="240.60000000000002" r="1.6" fill="#8a8a8a" stroke="#666" stroke-width="0.5"/>
<circle cx="566.1" cy="240.60000000000002" r="1.6" fill="#8a8a8a" stroke="#666" stroke-width="0.5"/>
<circle cx="574.5" cy="240.60000000000002" r="1.6" fill="#8a8a8a" stroke="#666" stroke-width="0.5"/>
<circle cx="582.9" cy="240.60000000000002" r="1.6" fill="#8a8a8a" stroke="#666" stroke-width="0.5"/>
<circle cx="591.3" cy="240.60000000000002" r="1.6" fill="#8a8a8a" stroke="#666" stroke-width="0.5"/>
<circle cx="599.7" cy="240.60000000000002" r="1.6" fill="#8a8a8a" stroke="#666" stroke-width="0.5"/>
<circle cx="608.1" cy="240.60000000000002" r="1.6" fill="#8a8a8a" stroke="#666" stroke-width="0.5"/>
<circle cx="515.7" cy="231.5" r="1.6" fill="#8a8a8a" stroke="#666" stroke-width="0.5"/>
<circle cx="601.7" cy="231.5" r="1.6" fill="#8a8a8a" stroke="#666" stroke-width="0.5"/>
<circle cx="608.7" cy="231.5" r="1.6" fill="#8a8a8a" stroke="#666" stroke-width="0.5"/>
<rect x="521.7" y="225.3" width="79" height="11.3" fill="#f4f4f4"/>
<rect x="513.2" y="259" width="97.7" height="16.2" fill="#cfcfcf" stroke="#8a8a8a" stroke-width="1"/>
<rect x="514.2" y="260" width="95.7" height="2.2" fill="#dedede"/>
<rect x="531.2" y="262.5" width="21.5" height="11.5" fill="url(#hubg)"/>
<circle cx="525.9000000000001" cy="271.6" r="1.4" fill="#111"/>
<line x1="553.7" y1="265.7" x2="573.7" y2="265.7" stroke="#151515" stroke-width="2.3" stroke-dasharray="2.8 0.55"/>
<line x1="576.2" y1="265.7" x2="596.2" y2="265.7" stroke="#151515" stroke-width="2.3" stroke-dasharray="2.8 0.55"/>
<rect x="599.6" y="264.4" width="8" height="2.6" fill="#7e7e7e"/>
<line x1="553.7" y1="271.6" x2="573.7" y2="271.6" stroke="#151515" stroke-width="2.3" stroke-dasharray="2.8 0.55"/>
<line x1="576.2" y1="271.6" x2="596.2" y2="271.6" stroke="#151515" stroke-width="2.3" stroke-dasharray="2.8 0.55"/>
<rect x="599.6" y="270.3" width="8" height="2.6" fill="#7e7e7e"/>
<text transform="translate(561.5,218.0) scale(1,1.02)" x="0" y="0" font-size="12.7" text-anchor="middle" fill="#1c1c1c" stroke="#1c1c1c" stroke-width="0.3">32-Port Patch</text>
<text transform="translate(561.5,232.6) scale(1,1.02)" x="0" y="0" font-size="12.7" text-anchor="middle" fill="#1c1c1c" stroke="#1c1c1c" stroke-width="0.3">Panel</text>
<text transform="translate(561.8,292.0) scale(1,1.02)" x="0" y="0" font-size="12.7" text-anchor="middle" fill="#1c1c1c" stroke="#1c1c1c" stroke-width="0.3">Workgroup</text>
<text transform="translate(561.8,306.9) scale(1,1.02)" x="0" y="0" font-size="12.7" text-anchor="middle" fill="#1c1c1c" stroke="#1c1c1c" stroke-width="0.3">Hub</text>
<text transform="translate(561.5,332.9) scale(1,1.04)" x="0" y="0" font-size="15.2" text-anchor="middle" fill="#1c1c1c" stroke="#1c1c1c" stroke-width="0.3">SE-Wing, 8th-Flr.</text>
<text transform="translate(561.5,350.7) scale(1,1.04)" x="0" y="0" font-size="15.2" text-anchor="middle" fill="#1c1c1c" stroke="#1c1c1c" stroke-width="0.3">OB/GYN Nurse Station</text>
<path d="M474.00,478.20 H650.30 A6.5,6.5 0 0 0 656.80,471.70 V376.30 A6.5,6.5 0 0 0 650.30,369.80 H474.00 A6.5,6.5 0 0 0 467.50,376.30 V471.70 A6.5,6.5 0 0 0 474.00,478.20" fill="none" stroke="#111" stroke-width="2.15" stroke-dasharray="13.6 6.250" stroke-dashoffset="1.41"/>
<line x1="561.8" y1="409" x2="561.8" y2="425.3" stroke="#2a2a88" stroke-width="1.8"/>
<line x1="561.8" y1="425.0" x2="567.8" y2="425.0" stroke="#666" stroke-width="0.7"/>
<rect x="510.6" y="391" width="102.5" height="18.5" fill="#cfcfcf" stroke="#8c8c8c" stroke-width="1"/>
<rect x="510.6" y="391" width="1.8" height="18.5" fill="#111"/>
<rect x="611.3000000000001" y="391" width="1.8" height="18.5" fill="#111"/>
<circle cx="519.0" cy="396.7" r="1.6" fill="#8a8a8a" stroke="#666" stroke-width="0.5"/>
<circle cx="519.0" cy="404.6" r="1.6" fill="#8a8a8a" stroke="#666" stroke-width="0.5"/>
<circle cx="605.1" cy="396.7" r="1.6" fill="#8a8a8a" stroke="#666" stroke-width="0.5"/>
<circle cx="605.1" cy="404.6" r="1.6" fill="#8a8a8a" stroke="#666" stroke-width="0.5"/>
<rect x="521.0" y="390" width="81" height="13.4" fill="#f4f4f4"/>
<rect x="526.1" y="404.1" width="3" height="1.4" fill="#7a7a7a"/>
<rect x="533.9" y="404.1" width="3" height="1.4" fill="#7a7a7a"/>
<rect x="541.7" y="404.1" width="3" height="1.4" fill="#7a7a7a"/>
<rect x="549.5" y="404.1" width="3" height="1.4" fill="#7a7a7a"/>
<rect x="557.3" y="404.1" width="3" height="1.4" fill="#7a7a7a"/>
<rect x="565.1" y="404.1" width="3" height="1.4" fill="#7a7a7a"/>
<rect x="572.9" y="404.1" width="3" height="1.4" fill="#7a7a7a"/>
<rect x="580.7" y="404.1" width="3" height="1.4" fill="#7a7a7a"/>
<rect x="588.5" y="404.1" width="3" height="1.4" fill="#7a7a7a"/>
<rect x="596.3" y="404.1" width="3" height="1.4" fill="#7a7a7a"/>
<rect x="513.2" y="425.3" width="97.7" height="16.2" fill="#cfcfcf" stroke="#8a8a8a" stroke-width="1"/>
<rect x="514.2" y="426.3" width="95.7" height="2.2" fill="#dedede"/>
<rect x="531.2" y="428.8" width="21.5" height="11.5" fill="url(#hubg)"/>
<circle cx="525.9000000000001" cy="437.90000000000003" r="1.4" fill="#111"/>
<line x1="553.7" y1="432.0" x2="573.7" y2="432.0" stroke="#151515" stroke-width="2.3" stroke-dasharray="2.8 0.55"/>
<line x1="576.2" y1="432.0" x2="596.2" y2="432.0" stroke="#151515" stroke-width="2.3" stroke-dasharray="2.8 0.55"/>
<rect x="599.6" y="430.7" width="8" height="2.6" fill="#7e7e7e"/>
<line x1="553.7" y1="437.90000000000003" x2="573.7" y2="437.90000000000003" stroke="#151515" stroke-width="2.3" stroke-dasharray="2.8 0.55"/>
<line x1="576.2" y1="437.90000000000003" x2="596.2" y2="437.90000000000003" stroke="#151515" stroke-width="2.3" stroke-dasharray="2.8 0.55"/>
<rect x="599.6" y="436.6" width="8" height="2.6" fill="#7e7e7e"/>
<text transform="translate(561.5,384.0) scale(1,1.02)" x="0" y="0" font-size="12.7" text-anchor="middle" fill="#1c1c1c" stroke="#1c1c1c" stroke-width="0.3">32-Port Patch</text>
<text transform="translate(561.5,398.6) scale(1,1.02)" x="0" y="0" font-size="12.7" text-anchor="middle" fill="#1c1c1c" stroke="#1c1c1c" stroke-width="0.3">Panel</text>
<text transform="translate(561.8,457.8) scale(1,1.02)" x="0" y="0" font-size="12.7" text-anchor="middle" fill="#1c1c1c" stroke="#1c1c1c" stroke-width="0.3">Workgroup</text>
<text transform="translate(561.8,472.75) scale(1,1.02)" x="0" y="0" font-size="12.7" text-anchor="middle" fill="#1c1c1c" stroke="#1c1c1c" stroke-width="0.3">Hub</text>
<text transform="translate(561.5,498.4) scale(1,1.04)" x="0" y="0" font-size="15.2" text-anchor="middle" fill="#1c1c1c" stroke="#1c1c1c" stroke-width="0.3">SE-Wing, 3rd-Flr.</text>
<text transform="translate(561.5,516.3) scale(1,1.04)" x="0" y="0" font-size="15.2" text-anchor="middle" fill="#1c1c1c" stroke="#1c1c1c" stroke-width="0.3">TI-CAT/MRI Nurse Station</text>
<path d="M474.00,649.90 H650.30 A6.5,6.5 0 0 0 656.80,643.40 V547.60 A6.5,6.5 0 0 0 650.30,541.10 H474.00 A6.5,6.5 0 0 0 467.50,547.60 V643.40 A6.5,6.5 0 0 0 474.00,649.90" fill="none" stroke="#111" stroke-width="2.15" stroke-dasharray="13.6 6.250" stroke-dashoffset="1.41"/>
<line x1="555.2" y1="580.8" x2="555.2" y2="596.8" stroke="#2a2a88" stroke-width="1.8"/>
<line x1="555.2" y1="596.5" x2="561.2" y2="596.5" stroke="#666" stroke-width="0.7"/>
<rect x="510.6" y="562.8" width="102.5" height="18.5" fill="#cfcfcf" stroke="#8c8c8c" stroke-width="1"/>
<rect x="510.6" y="562.8" width="1.8" height="18.5" fill="#111"/>
<rect x="611.3000000000001" y="562.8" width="1.8" height="18.5" fill="#111"/>
<circle cx="519.0" cy="568.5" r="1.6" fill="#8a8a8a" stroke="#666" stroke-width="0.5"/>
<circle cx="519.0" cy="576.4" r="1.6" fill="#8a8a8a" stroke="#666" stroke-width="0.5"/>
<circle cx="605.1" cy="568.5" r="1.6" fill="#8a8a8a" stroke="#666" stroke-width="0.5"/>
<circle cx="605.1" cy="576.4" r="1.6" fill="#8a8a8a" stroke="#666" stroke-width="0.5"/>
<rect x="521.0" y="561.8" width="81" height="13.4" fill="#f4f4f4"/>
<rect x="526.1" y="575.9" width="3" height="1.4" fill="#7a7a7a"/>
<rect x="533.9" y="575.9" width="3" height="1.4" fill="#7a7a7a"/>
<rect x="541.7" y="575.9" width="3" height="1.4" fill="#7a7a7a"/>
<rect x="549.5" y="575.9" width="3" height="1.4" fill="#7a7a7a"/>
<rect x="557.3" y="575.9" width="3" height="1.4" fill="#7a7a7a"/>
<rect x="565.1" y="575.9" width="3" height="1.4" fill="#7a7a7a"/>
<rect x="572.9" y="575.9" width="3" height="1.4" fill="#7a7a7a"/>
<rect x="580.7" y="575.9" width="3" height="1.4" fill="#7a7a7a"/>
<rect x="588.5" y="575.9" width="3" height="1.4" fill="#7a7a7a"/>
<rect x="596.3" y="575.9" width="3" height="1.4" fill="#7a7a7a"/>
<rect x="513.2" y="596.8" width="97.7" height="16.2" fill="#cfcfcf" stroke="#8a8a8a" stroke-width="1"/>
<rect x="514.2" y="597.8" width="95.7" height="2.2" fill="#dedede"/>
<rect x="531.2" y="600.3" width="21.5" height="11.5" fill="url(#hubg)"/>
<circle cx="525.9000000000001" cy="609.4" r="1.4" fill="#111"/>
<line x1="553.7" y1="603.5" x2="573.7" y2="603.5" stroke="#151515" stroke-width="2.3" stroke-dasharray="2.8 0.55"/>
<line x1="576.2" y1="603.5" x2="596.2" y2="603.5" stroke="#151515" stroke-width="2.3" stroke-dasharray="2.8 0.55"/>
<rect x="599.6" y="602.2" width="8" height="2.6" fill="#7e7e7e"/>
<line x1="553.7" y1="609.4" x2="573.7" y2="609.4" stroke="#151515" stroke-width="2.3" stroke-dasharray="2.8 0.55"/>
<line x1="576.2" y1="609.4" x2="596.2" y2="609.4" stroke="#151515" stroke-width="2.3" stroke-dasharray="2.8 0.55"/>
<rect x="599.6" y="608.1" width="8" height="2.6" fill="#7e7e7e"/>
<text transform="translate(561.5,555.8) scale(1,1.02)" x="0" y="0" font-size="12.7" text-anchor="middle" fill="#1c1c1c" stroke="#1c1c1c" stroke-width="0.3">32-Port Patch</text>
<text transform="translate(561.5,570.2) scale(1,1.02)" x="0" y="0" font-size="12.7" text-anchor="middle" fill="#1c1c1c" stroke="#1c1c1c" stroke-width="0.3">Panel</text>
<text transform="translate(561.8,629.8) scale(1,1.02)" x="0" y="0" font-size="12.7" text-anchor="middle" fill="#1c1c1c" stroke="#1c1c1c" stroke-width="0.3">Workgroup</text>
<text transform="translate(561.8,644.75) scale(1,1.02)" x="0" y="0" font-size="12.7" text-anchor="middle" fill="#1c1c1c" stroke="#1c1c1c" stroke-width="0.3">Hub</text>
<text transform="translate(561.5,667.2) scale(1,1.04)" x="0" y="0" font-size="15.2" text-anchor="middle" fill="#1c1c1c" stroke="#1c1c1c" stroke-width="0.3">SE-Wing, Gnd.-Flr.</text>
<text transform="translate(561.5,685.0) scale(1,1.04)" x="0" y="0" font-size="15.2" text-anchor="middle" fill="#1c1c1c" stroke="#1c1c1c" stroke-width="0.3">ER Nurse Station</text>
<path d="M610.6,112 V89 H911" fill="none" stroke="#111" stroke-width="2"/>
<path d="M610.6,267.3 H636 V254.6 H911" fill="none" stroke="#111" stroke-width="2"/>
<path d="M610.6,433.3 H636 V421 H911" fill="none" stroke="#111" stroke-width="2"/>
<path d="M610.6,604.4 H636 V592.6 H911" fill="none" stroke="#111" stroke-width="2"/>
<use href="#fib" x="430.5" y="106.2"/>
<use href="#fib" x="430.5" y="306.5"/>
<use href="#fib" x="430.5" y="472.5"/>
<use href="#fib" x="467.7" y="572.4"/>
<use href="#pc" x="697.6" y="26.1"/>
<line x1="722" y1="81" x2="722" y2="89" stroke="#111" stroke-width="2"/>
<use href="#pc" x="765.8" y="26.2"/>
<line x1="790.8" y1="81" x2="790.8" y2="89" stroke="#111" stroke-width="2"/>
<rect x="680.6" y="101.5" width="22" height="53.7" fill="#c6c6c6" stroke="#7e7e7e" stroke-width="1"/>
<rect x="699.6" y="102" width="3" height="52.7" fill="#adadad"/>
<rect x="682.1" y="103" width="15" height="17.5" fill="#8e8e8e" stroke="#666" stroke-width="0.6"/>
<rect x="683.1" y="106" width="13" height="2" fill="#5a5a5a"/>
<rect x="683.1" y="111" width="13" height="3" fill="#d8d8d8"/>
<rect x="682.6" y="123" width="6" height="1.4" fill="#777"/>
<line x1="684.1" y1="127" x2="684.1" y2="153.7" stroke="#b8b8b8" stroke-width="0.7"/>
<use href="#mon" x="706.2" y="113"/>
<line x1="727.7" y1="89" x2="727.7" y2="113.5" stroke="#111" stroke-width="2"/>
<rect x="681.7" y="193.5" width="22" height="50" fill="#c4c4c4" stroke="#7e7e7e" stroke-width="1"/>
<rect x="703.7" y="195" width="4.5" height="48.5" fill="#9c9c9c" stroke="#777" stroke-width="0.6"/>
<rect x="684.2" y="195.5" width="16" height="4" fill="#d6d6d6" stroke="#888" stroke-width="0.5"/>
<rect x="687.7" y="201.3" width="9.5" height="2" fill="#111"/>
<rect x="684.2" y="200" width="16" height="8" fill="none" stroke="#888" stroke-width="0.5"/>
<line x1="684.2" y1="210.5" x2="700.2" y2="210.5" stroke="#888" stroke-width="0.8"/>
<rect x="684.2" y="212" width="16" height="29" fill="#bcbcbc"/>
<use href="#mon" x="709.4" y="200.9"/>
<line x1="730.6" y1="243.5" x2="730.6" y2="254.6" stroke="#111" stroke-width="2"/>
<use href="#pc" x="767" y="188.6"/>
<line x1="791.8" y1="243.5" x2="791.8" y2="254.6" stroke="#111" stroke-width="2"/>
<use href="#pc" x="698.8" y="266.3"/>
<line x1="723.2" y1="254.6" x2="723.2" y2="266.8" stroke="#111" stroke-width="2"/>
<use href="#pc" x="778" y="266.3"/>
<line x1="802.4" y1="254.6" x2="802.4" y2="266.8" stroke="#111" stroke-width="2"/>
<rect x="684.8" y="341.5" width="49" height="65" fill="#c2c2c2" stroke="#7a7a7a" stroke-width="1"/>
<rect x="682.9" y="406.4" width="53" height="3.3" fill="#6e6e6e"/>
<rect x="687.3" y="344.5" width="17.5" height="9" fill="#a9a9a9" stroke="#777" stroke-width="0.6"/>
<rect x="691.3" y="350.5" width="9" height="1.6" fill="#111"/>
<line x1="686.3" y1="358.0" x2="707.3" y2="358.0" stroke="#8e8e8e" stroke-width="0.8"/>
<line x1="686.3" y1="361.6" x2="707.3" y2="361.6" stroke="#8e8e8e" stroke-width="0.8"/>
<line x1="686.3" y1="365.2" x2="707.3" y2="365.2" stroke="#8e8e8e" stroke-width="0.8"/>
<line x1="686.3" y1="368.8" x2="707.3" y2="368.8" stroke="#8e8e8e" stroke-width="0.8"/>
<line x1="686.3" y1="372.4" x2="707.3" y2="372.4" stroke="#8e8e8e" stroke-width="0.8"/>
<line x1="686.3" y1="376.0" x2="707.3" y2="376.0" stroke="#8e8e8e" stroke-width="0.8"/>
<line x1="686.3" y1="379.6" x2="707.3" y2="379.6" stroke="#8e8e8e" stroke-width="0.8"/>
<line x1="686.3" y1="383.2" x2="707.3" y2="383.2" stroke="#8e8e8e" stroke-width="0.8"/>
<line x1="686.3" y1="386.8" x2="707.3" y2="386.8" stroke="#8e8e8e" stroke-width="0.8"/>
<line x1="686.3" y1="390.4" x2="707.3" y2="390.4" stroke="#8e8e8e" stroke-width="0.8"/>
<line x1="686.3" y1="394.0" x2="707.3" y2="394.0" stroke="#8e8e8e" stroke-width="0.8"/>
<line x1="686.3" y1="397.6" x2="707.3" y2="397.6" stroke="#8e8e8e" stroke-width="0.8"/>
<line x1="686.3" y1="401.2" x2="707.3" y2="401.2" stroke="#8e8e8e" stroke-width="0.8"/>
<line x1="708.3" y1="343" x2="708.3" y2="403" stroke="#8a8a8a" stroke-width="0.8"/>
<rect x="710.3" y="344" width="21.5" height="61" fill="#cfcfcf" stroke="#555" stroke-width="0.7"/>
<rect x="711.8" y="346" width="18" height="2" fill="#444"/>
<rect x="712.3" y="350.5" width="17" height="5" fill="#b0b0b0"/>
<rect x="714.8" y="352.5" width="11" height="2" fill="#111"/>
<rect x="713.3" y="362" width="3.2" height="40" fill="#c4c4c4" stroke="#333" stroke-width="1"/>
<rect x="713.6999999999999" y="363" width="2.4" height="5" fill="#333"/>
<rect x="719.5999999999999" y="362" width="3.2" height="40" fill="#c4c4c4" stroke="#333" stroke-width="1"/>
<rect x="719.9999999999999" y="363" width="2.4" height="5" fill="#333"/>
<rect x="725.9" y="362" width="3.2" height="40" fill="#c4c4c4" stroke="#333" stroke-width="1"/>
<rect x="726.3" y="363" width="2.4" height="5" fill="#333"/>
<rect x="711.3" y="391" width="20" height="4" fill="#999"/>
<line x1="709.2" y1="409" x2="709.2" y2="421" stroke="#111" stroke-width="2"/>
<rect x="751.2" y="361.5" width="22" height="47.7" fill="#cbcbcb" stroke="#808080" stroke-width="1"/>
<rect x="753.2" y="363" width="18" height="15.5" fill="#7e7e7e"/>
<rect x="753.7" y="364" width="17" height="1.2" fill="#aaa"/>
<rect x="753.7" y="369" width="17" height="1.2" fill="#aaa"/>
<rect x="753.7" y="374" width="17" height="1.2" fill="#aaa"/>
<rect x="753.2" y="379" width="18" height="3" fill="#dcdcdc"/>
<rect x="753.2" y="384" width="11" height="1.8" fill="#111"/>
<rect x="766.7" y="382.5" width="3" height="4" fill="#888"/>
<rect x="753.2" y="388" width="8" height="1.2" fill="#888"/>
<use href="#mon" x="776.6" y="366.5"/>
<line x1="797.9" y1="409" x2="797.9" y2="421" stroke="#111" stroke-width="2"/>
<use href="#pc" x="827.6" y="354.3"/>
<line x1="852.2" y1="409" x2="852.2" y2="421" stroke="#111" stroke-width="2"/>
<use href="#pc" x="698.6" y="432.3"/>
<line x1="723.4" y1="421" x2="723.4" y2="432.8" stroke="#111" stroke-width="2"/>
<use href="#pc" x="765.1" y="432.3"/>
<line x1="789.2" y1="421" x2="789.2" y2="432.8" stroke="#111" stroke-width="2"/>
<rect x="682.3" y="525.5" width="22" height="56" fill="#cfcfcf" stroke="#808080" stroke-width="1"/>
<rect x="683.8" y="526" width="19" height="18.5" fill="#8c8c8c"/>
<rect x="684.3" y="527.5" width="18" height="2" fill="#5e5e5e"/>
<rect x="684.3" y="532.0" width="18" height="2" fill="#5e5e5e"/>
<rect x="684.3" y="536.5" width="18" height="2" fill="#5e5e5e"/>
<rect x="684.3" y="541.0" width="18" height="2" fill="#5e5e5e"/>
<rect x="683.8" y="544.5" width="19" height="11" fill="#a6a6a6"/>
<rect x="685.8" y="552" width="12" height="1.6" fill="#222"/>
<rect x="684.8" y="546.5" width="4" height="2" fill="#e0e0e0"/>
<use href="#mon" x="707.7" y="538.8"/>
<line x1="729.4" y1="581.5" x2="729.4" y2="592.6" stroke="#111" stroke-width="2"/>
<use href="#pc" x="766.3" y="525.6"/>
<line x1="791" y1="581" x2="791" y2="592.6" stroke="#111" stroke-width="2"/>
<use href="#pc" x="833.9" y="525.6"/>
<line x1="858.1" y1="581" x2="858.1" y2="592.6" stroke="#111" stroke-width="2"/>
<use href="#pc" x="699.2" y="604.0"/>
<line x1="723.9" y1="592.6" x2="723.9" y2="605" stroke="#111" stroke-width="2"/>
<use href="#pc" x="777.0" y="604.0"/>
<line x1="801" y1="592.6" x2="801" y2="605" stroke="#111" stroke-width="2"/>
<use href="#pc" x="851.4" y="604.0"/>
<line x1="875.6" y1="592.6" x2="875.6" y2="605" stroke="#111" stroke-width="2"/>
<rect x="37" y="700" width="383" height="37" fill="#f4f4f4"/>
<rect x="44.2" y="703.7" width="33.5" height="32.6" fill="#0c0c92" stroke="#05055a" stroke-width="0.8"/>
<circle cx="53.7" cy="711.8" r="4.8" fill="#2aea2a"/>
<rect x="63.5" y="706.7" width="9.7" height="10" fill="#2aea2a"/>
<path d="M54.2,720.5 L60.5,726.8 L54.2,733.1 L47.9,726.8 Z" fill="#2aea2a"/>
<path d="M68.7,722 L73.9,732 L63.9,732 Z" fill="#2aea2a"/>
<text x="40" y="696" font-size="10" fill="#dedede">Blog</text>
<text x="86" y="725.5" font-size="12.85" fill="#1c1c1c" stroke="#1c1c1c" stroke-width="0.3">Entwerfen von Fluß- und Netzwerkdiagrammen mit VISIO</text>
<text x="746.7" y="725.5" font-size="13" fill="#1c1c1c" stroke="#1c1c1c" stroke-width="0.3">©1999 by Georg A. Hoffmann</text>
</svg>
</body></html>
